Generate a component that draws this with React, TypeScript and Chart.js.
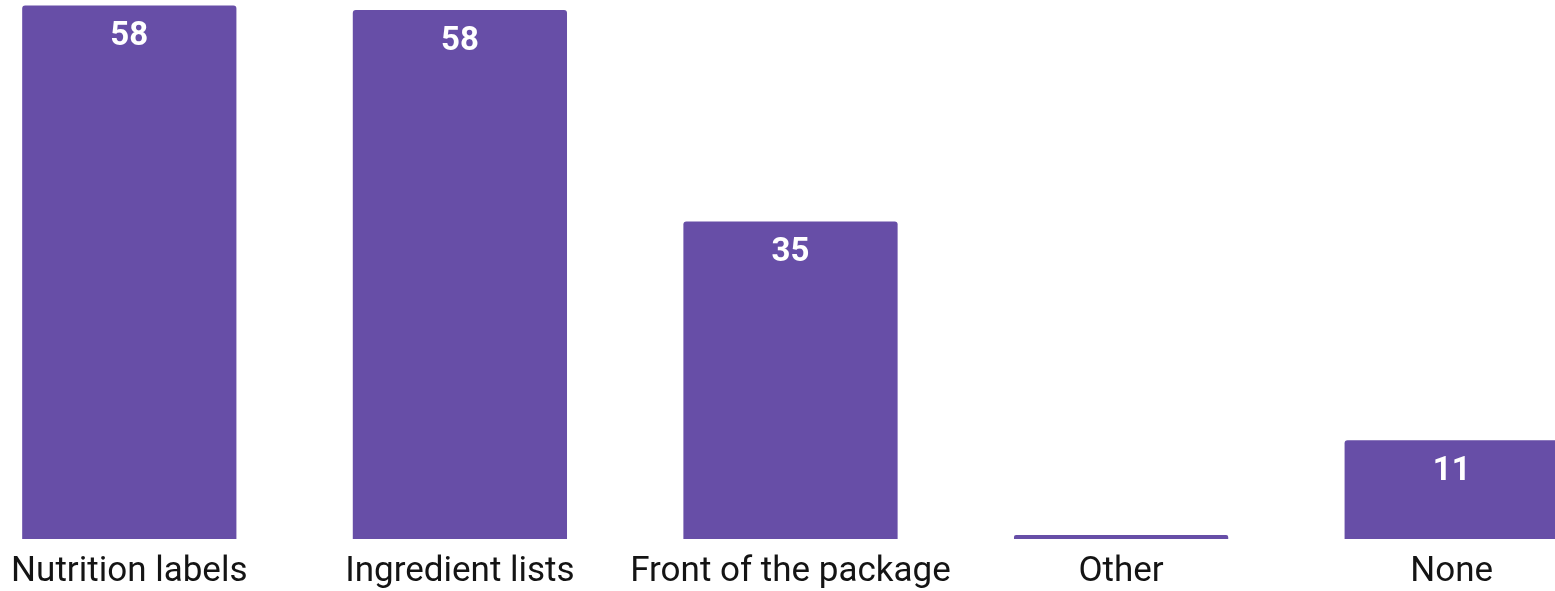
import React, { useEffect, useRef } from "react";
import { Chart, registerables } from "chart.js";

Chart.register(...registerables);

const categories = ["Nutrition labels", "Ingredient lists", "Front of the package", "Other", "None"];
const values = [58.3, 57.8, 34.7, 0.45, 10.8];
const barColor = "#674ea7";

const valueLabelPlugin = {
  id: "valueLabels",
  afterDatasetsDraw(chart: any) {
    const ctx = chart.ctx;
    const meta = chart.getDatasetMeta(0);
    ctx.save();
    ctx.fillStyle = "#ffffff";
    ctx.font = "bold 33px Roboto";
    ctx.textAlign = "center";
    ctx.textBaseline = "alphabetic";
    meta.data.forEach((bar: any, i: number) => {
      const v = values[i];
      if (v < 1) return;
      ctx.fillText(String(Math.round(v)), bar.x, bar.y + 40);
    });
    ctx.restore();
  },
};

export default function App() {
  const ref = useRef<HTMLCanvasElement | null>(null);
  useEffect(() => {
    if (!ref.current) return;
    const chart = new Chart(ref.current, {
      type: "bar",
      data: {
        labels: categories,
        datasets: [
          {
            data: values,
            backgroundColor: barColor,
            borderRadius: { topLeft: 3, topRight: 3, bottomLeft: 0, bottomRight: 0 },
            borderSkipped: false,
            barPercentage: 0.648,
            categoryPercentage: 1,
          },
        ],
      },
      options: {
        animation: false,
        responsive: false,
        maintainAspectRatio: false,
        layout: { padding: 0 },
        plugins: { legend: { display: false }, tooltip: { enabled: false } },
        scales: {
          x: {
            grid: { display: false, drawTicks: false },
            border: { display: false },
            ticks: {
              color: "#141414",
              font: { family: "Roboto", size: 35, lineHeight: 1 },
              padding: 16,
              maxRotation: 0,
              autoSkip: false,
            },
          },
          y: { display: false, min: 0, max: 58.9 },
        },
      },
      plugins: [valueLabelPlugin],
    });
    return () => chart.destroy();
  }, []);
  return (
    <div style={{ position: "fixed", left: 0, top: 0, width: 1555, height: 591, overflow: "hidden", background: "#fff" }}>
      <canvas ref={ref} width={1653} height={606} style={{ position: "absolute", left: -36, top: 0, width: 1653, height: 606 }} />
    </div>
  );
}
